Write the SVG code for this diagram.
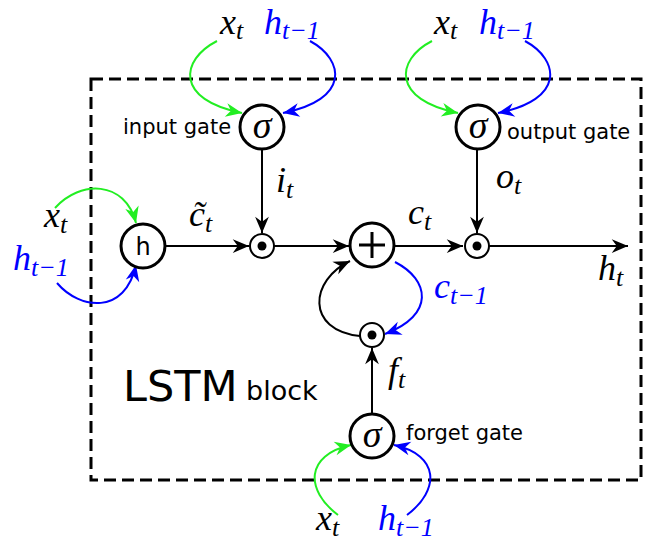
<svg xmlns="http://www.w3.org/2000/svg" width="648" height="543" viewBox="0 0 648 543">
<style>
.big{fill:#fff;stroke:#000;stroke-width:3}
.small{fill:#fff;stroke:#000;stroke-width:2}
.dot{fill:#000}
.ln{fill:none;stroke:#000;stroke-width:2}
.g{fill:none;stroke:#22ee22;stroke-width:2}
.b{fill:none;stroke:#0000ff;stroke-width:2}
.m{font-family:"Liberation Serif","DejaVu Serif",serif;font-style:italic;font-size:36px}
.ms{font-family:"Liberation Serif","DejaVu Serif",serif;font-style:italic;font-size:26px}
.lab{font-family:"DejaVu Sans","Liberation Sans",sans-serif;font-size:21px}
.sig{font-family:"Liberation Serif","DejaVu Serif",serif;font-style:italic;font-size:38px}
</style>
<defs>
<marker id="ak" markerUnits="userSpaceOnUse" markerWidth="20" markerHeight="20" refX="0" refY="0" viewBox="-14 -8 16 16" orient="auto"><path d="M0,0 L-13,-5.5 L-9,0 L-13,5.5 Z" fill="#000"/></marker>
<marker id="ag" markerUnits="userSpaceOnUse" markerWidth="20" markerHeight="20" refX="0" refY="0" viewBox="-14 -8 16 16" orient="auto"><path d="M0,0 L-13,-5.5 L-9,0 L-13,5.5 Z" fill="#22ee22"/></marker>
<marker id="ab" markerUnits="userSpaceOnUse" markerWidth="20" markerHeight="20" refX="0" refY="0" viewBox="-14 -8 16 16" orient="auto"><path d="M0,0 L-13,-5.5 L-9,0 L-13,5.5 Z" fill="#0000ff"/></marker>
</defs>
<rect x="91" y="79" width="550" height="401" fill="none" stroke="#000" stroke-width="3" stroke-dasharray="12,6"/>
<g id="connectors">
<path class="g" d="M217,41 C180,60 175,100 242,113" marker-end="url(#ag)"/>
<path class="b" d="M310,41 C345,60 350,100 283,113" marker-end="url(#ab)"/>
<path class="g" d="M432,41 C395,60 392,100 458,113" marker-end="url(#ag)"/>
<path class="b" d="M525,41 C560,60 565,100 498,113" marker-end="url(#ab)"/>
<path class="g" d="M55,208 C80,180 125,180 136,223" marker-end="url(#ag)"/>
<path class="b" d="M57,283 C80,310 125,315 136,265" marker-end="url(#ab)"/>
<path class="g" d="M338,515 C305,490 305,455 351,445" marker-end="url(#ag)"/>
<path class="b" d="M407,515 C440,490 440,455 394,445" marker-end="url(#ab)"/>
<path class="ln" d="M262,149 L262,233" marker-end="url(#ak)"/>
<path class="ln" d="M477,149 L477,233" marker-end="url(#ak)"/>
<path class="ln" d="M165,246 L249,246" marker-end="url(#ak)"/>
<path class="ln" d="M274,246 L349,246" marker-end="url(#ak)"/>
<path class="ln" d="M394,246 L463,246" marker-end="url(#ak)"/>
<path class="ln" d="M489,246 L628,246" marker-end="url(#ak)"/>
<path class="ln" d="M372,414 L372,348" marker-end="url(#ak)"/>
<path class="b" d="M395,262 C430,280 435,315 385,334" marker-end="url(#ab)"/>
<path class="ln" d="M360,336 C305,330 310,280 350,261" marker-end="url(#ak)"/>
</g>
<g id="input_gate">
<circle class="big" cx="262" cy="127" r="22"/>
<text class="sig" x="262" y="138" text-anchor="middle">σ</text>
<text class="lab" x="123" y="134">input gate</text>
</g>
<g id="output_gate">
<circle class="big" cx="478" cy="127" r="22"/>
<text class="sig" x="478" y="138" text-anchor="middle">σ</text>
<text class="lab" x="507" y="139">output gate</text>
</g>
<g id="forget_gate">
<circle class="big" cx="372" cy="436" r="22"/>
<text class="sig" x="372" y="447" text-anchor="middle">σ</text>
<text class="lab" x="406" y="440">forget gate</text>
</g>
<g id="h_node">
<circle class="big" cx="143" cy="246" r="22"/>
<text x="143" y="255" text-anchor="middle" font-family="DejaVu Sans,sans-serif" font-size="24">h</text>
</g>
<g id="plus_node">
<circle class="big" cx="372" cy="245" r="22"/>
<path d="M359,245 H385 M372,232 V258" stroke="#000" stroke-width="3"/>
</g>
<g id="mult_in">
<circle class="small" cx="262" cy="246" r="12"/>
<circle class="dot" cx="262" cy="246" r="4.5"/>
</g>
<g id="mult_out">
<circle class="small" cx="477" cy="246" r="12"/>
<circle class="dot" cx="477" cy="246" r="4.5"/>
</g>
<g id="mult_forget">
<circle class="small" cx="372" cy="335" r="12"/>
<circle class="dot" cx="372" cy="335" r="4.5"/>
</g>
<g id="labels">
<text x="220" y="34"><tspan class="m">x</tspan><tspan class="ms" dy="5">t</tspan></text>
<text x="264" y="34" fill="#0000ff"><tspan class="m">h</tspan><tspan class="ms" dy="5">t−1</tspan></text>
<text x="434" y="34"><tspan class="m">x</tspan><tspan class="ms" dy="5">t</tspan></text>
<text x="479" y="34" fill="#0000ff"><tspan class="m">h</tspan><tspan class="ms" dy="5">t−1</tspan></text>
<text x="44" y="227"><tspan class="m">x</tspan><tspan class="ms" dy="6">t</tspan></text>
<text x="13" y="270" fill="#0000ff"><tspan class="m">h</tspan><tspan class="ms" dy="6">t−1</tspan></text>
<text x="316" y="530"><tspan class="m">x</tspan><tspan class="ms" dy="6">t</tspan></text>
<text x="378" y="530" fill="#0000ff"><tspan class="m">h</tspan><tspan class="ms" dy="6">t−1</tspan></text>
<text x="276" y="192"><tspan class="m">i</tspan><tspan class="ms" dy="6">t</tspan></text>
<text x="496" y="188"><tspan class="m">o</tspan><tspan class="ms" dy="6">t</tspan></text>
<text x="189" y="226"><tspan class="m">c̃</tspan><tspan class="ms" dy="6">t</tspan></text>
<text x="408" y="224"><tspan class="m">c</tspan><tspan class="ms" dy="6">t</tspan></text>
<text x="598" y="280"><tspan class="m">h</tspan><tspan class="ms" dy="6">t</tspan></text>
<text x="434" y="298" fill="#0000ff"><tspan class="m">c</tspan><tspan class="ms" dy="6">t−1</tspan></text>
<text x="388" y="382"><tspan class="m">f</tspan><tspan class="ms" dy="6">t</tspan></text>
<text x="123" y="401" font-family="DejaVu Sans,sans-serif" font-size="43">LSTM</text>
<text x="246" y="400" font-family="DejaVu Sans,sans-serif" font-size="27">block</text>
</g>
</svg>
